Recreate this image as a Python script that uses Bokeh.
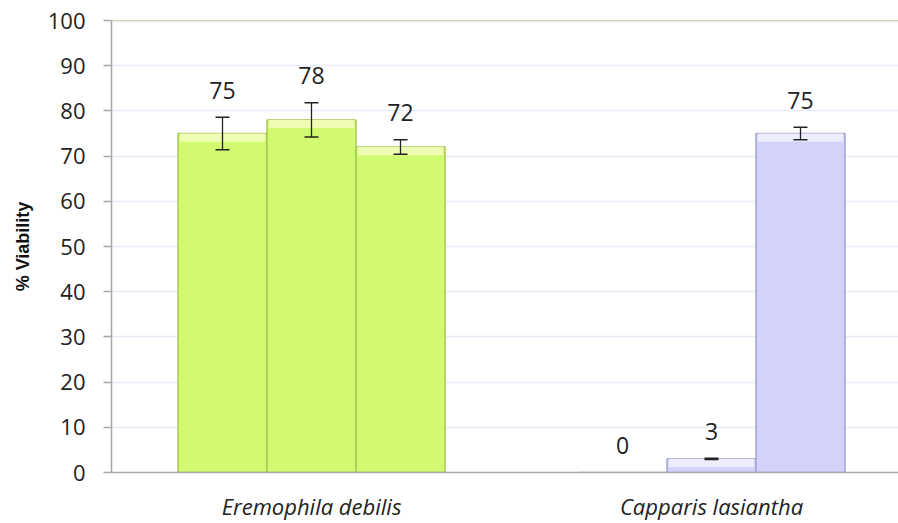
from bokeh.plotting import figure
from bokeh.models import Range1d, FixedTicker, Span, Whisker, TeeHead, ColumnDataSource
from bokeh.core.properties import value
from bokeh.embed import file_html
from bokeh.resources import INLINE

categories = ["Eremophila debilis", "Capparis lasiantha"]
eremophila_values = [75, 78, 72]
eremophila_errors = [3.6, 3.8, 1.6]
capparis_values = [0, 3, 75]
capparis_errors = [0.0, 0.15, 1.4]
y_ticks = [0, 10, 20, 30, 40, 50, 60, 70, 80, 90, 100]

group_centers = [0.5, 1.5]
bar_offsets = [-0.2225, 0.0, 0.2225]
bar_width = 0.2225

p = figure(width=898, height=523, output_backend="svg", toolbar_location=None,
           x_range=Range1d(0, 1.9675), y_range=Range1d(0, 100),
           min_border_left=111, min_border_top=20, min_border_bottom=51, min_border_right=0)
p.outline_line_color = None
p.xgrid.grid_line_color = None
p.ygrid.grid_line_color = "#e6ecf6"
p.ygrid.grid_line_width = 1.5

FONT = "Open Sans"
p.yaxis.ticker = FixedTicker(ticks=y_ticks)
p.yaxis.major_label_text_font = FONT
p.yaxis.major_label_text_font_size = "22px"
p.yaxis.major_label_text_color = "#222222"
p.yaxis.major_tick_out = 8
p.yaxis.major_tick_in = 0
p.yaxis.minor_tick_line_color = None
p.yaxis.axis_line_color = "#a6a6a6"
p.yaxis.axis_line_width = 1.5
p.yaxis.major_tick_line_color = "#a6a6a6"
p.yaxis.major_tick_line_width = 1.5
p.yaxis.major_label_standoff = 18
p.yaxis.axis_label = "% Viability"
p.yaxis.axis_label_text_font = "Liberation Sans"
p.yaxis.axis_label_text_font_style = "bold"
p.yaxis.axis_label_text_font_size = "18px"
p.yaxis.axis_label_text_color = "#111111"
p.yaxis.axis_label_standoff = 12

p.xaxis.ticker = FixedTicker(ticks=group_centers)
p.xaxis.major_label_overrides = {c: name for c, name in zip(group_centers, categories)}
p.xaxis.major_label_text_font = FONT
p.xaxis.major_label_text_font_style = "italic"
p.xaxis.major_label_text_font_size = "22px"
p.xaxis.major_label_text_color = "#222222"
p.xaxis.major_tick_line_color = None
p.xaxis.minor_tick_line_color = None
p.xaxis.axis_line_color = "#a6a6a6"
p.xaxis.axis_line_width = 1.5
p.xaxis.major_label_standoff = 12

p.add_layout(Span(location=100, dimension="width", line_color="#b3a57c", line_width=1.5))

groups = [
    (eremophila_values, eremophila_errors, group_centers[0], "#d2fa70", "#effcb4", "#a9c954"),
    (capparis_values, capparis_errors, group_centers[1], "#d3d3fa", "#ededfd", "#a3a3d6"),
]

for vals, errs, center, body, light, edge in groups:
    xs = [center + o for o in bar_offsets]
    src = ColumnDataSource(dict(
        x=xs, top=vals,
        band=[max(v - 1.8, 0) for v in vals],
        upper=[v + e for v, e in zip(vals, errs)],
        label=[str(v) for v in vals],
    ))
    p.vbar(x="x", top="top", bottom=0, width=bar_width, source=src,
           fill_color=body, line_color=edge, line_width=1.5)
    p.vbar(x="x", top="top", bottom="band", width=bar_width * 0.96, source=src,
           fill_color=light, line_color=None)
    ex = [x for x, e in zip(xs, errs) if e > 0]
    el = [v - e for v, e in zip(vals, errs) if e > 0]
    eu = [v + e for v, e in zip(vals, errs) if e > 0]
    esrc = ColumnDataSource(dict(x=ex, lower=el, upper=eu))
    p.add_layout(Whisker(source=esrc, base="x", lower="lower", upper="upper",
                         level="overlay",
                         line_color="#222222", line_width=1.3,
                         upper_head=TeeHead(size=14, line_color="#222222", line_width=1.5),
                         lower_head=TeeHead(size=14, line_color="#222222", line_width=1.5)))
    p.text(x="x", y="upper", text="label", source=src, text_font=value(FONT),
           text_font_size="23px", text_align="center", text_baseline="middle",
           text_color="#222222", y_offset=-27)

open("out.html", "w").write(file_html(p, INLINE))
